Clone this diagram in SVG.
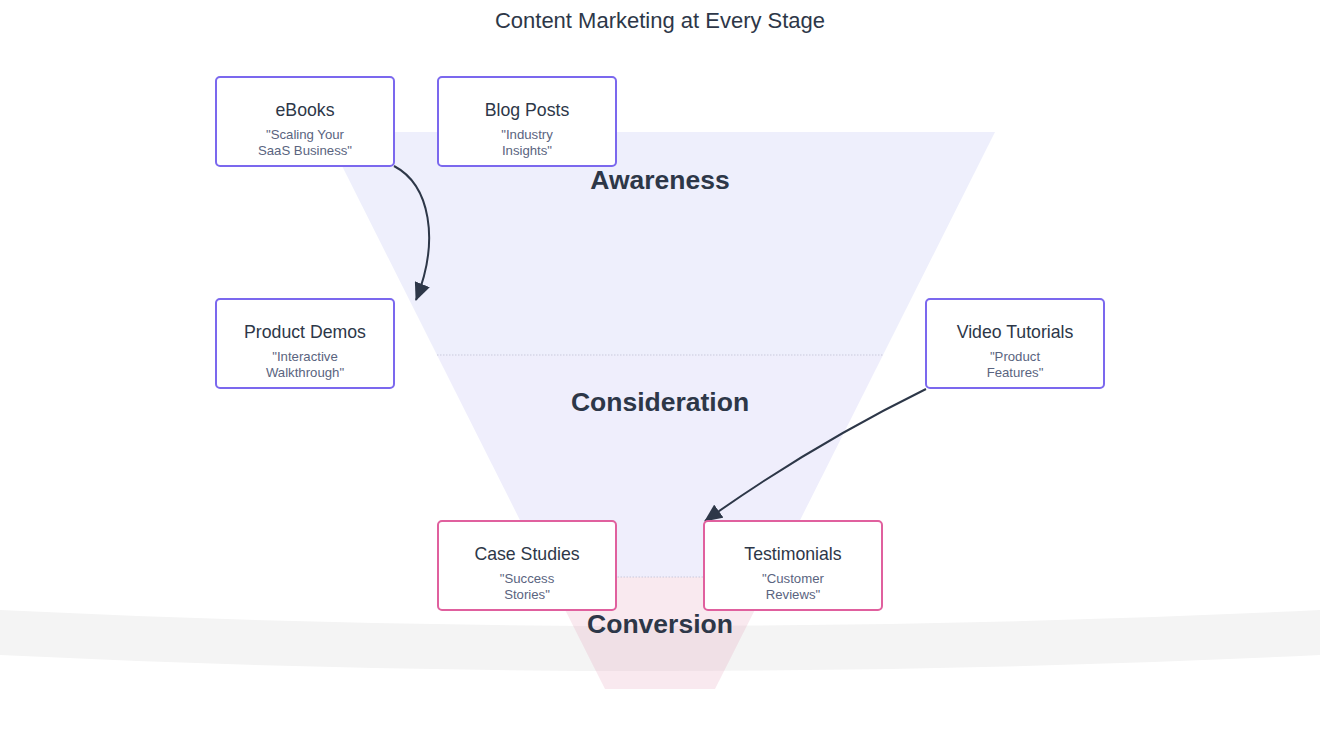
<svg xmlns="http://www.w3.org/2000/svg" width="1320" height="756" viewBox="0 0 1320 756">
<defs>
<style>
.bg{fill:#ffffff}
.band{fill:#f4f4f4}
.div{stroke:#c9c9dc;stroke-width:1;stroke-dasharray:1.5 1.5;fill:none}
.stage{font-family:"Liberation Sans",Arial,sans-serif;font-weight:bold;font-size:26.5px;fill:#2d3748;text-anchor:middle}
.title{font-family:"Liberation Sans",Arial,sans-serif;font-size:22px;fill:#2d3748;text-anchor:middle}
.box{fill:#ffffff;stroke-width:2}
.purple{stroke:#7b68ee}
.pink{stroke:#e0609e}
.nt{font-family:"Liberation Sans",Arial,sans-serif;font-size:17.7px;fill:#2d3748;text-anchor:middle}
.ns{font-family:"Liberation Sans",Arial,sans-serif;font-size:13.2px;fill:#5a6480;text-anchor:middle}
.edge{fill:none;stroke:#2d3748;stroke-width:2}
</style>
<marker id="arrow" markerUnits="userSpaceOnUse" markerWidth="18" markerHeight="16" viewBox="0 0 18 16" refX="17" refY="8" orient="auto">
<path d="M0,0 L18,8 L0,16 Z" fill="#2d3748"/>
</marker>
</defs>
<rect class="bg" x="0" y="0" width="1320" height="756"/>
<text class="title" x="660" y="28">Content Marketing at Every Stage</text>
<path class="band" d="M0,610 Q660,642 1320,610 L1320,655 Q660,687 0,655 Z"/>
<g id="funnel">
<polygon points="325,132 995,132 883,355 437,355" fill="#eeeffc"/>
<polygon points="437,355 883,355 771.5,577 548.5,577" fill="#efeefc"/>
<polygon points="548.5,577 771.5,577 715,689 605,689" fill="rgb(225,145,175)" fill-opacity="0.2"/>
<line class="div" x1="437" y1="355" x2="883" y2="355"/>
<line class="div" x1="548.5" y1="577" x2="771.5" y2="577"/>
</g>
<g id="stage-labels">
<text class="stage" x="660" y="189">Awareness</text>
<text class="stage" x="660" y="411">Consideration</text>
<text class="stage" x="660" y="633">Conversion</text>
</g>
<g id="connectors">
<path class="edge" d="M394,166 C430,185 440,240 416,300" marker-end="url(#arrow)"/>
<path class="edge" d="M926,389 Q810,446 705,521" marker-end="url(#arrow)"/>
</g>
<g id="ebooks">
<rect class="box purple" x="216" y="77" width="178" height="89" rx="4"/>
<text class="nt" x="305" y="116">eBooks</text>
<text class="ns" x="305" y="139">"Scaling Your</text>
<text class="ns" x="305" y="155">SaaS Business"</text>
</g>
<g id="blog-posts">
<rect class="box purple" x="438" y="77" width="178" height="89" rx="4"/>
<text class="nt" x="527" y="116">Blog Posts</text>
<text class="ns" x="527" y="139">"Industry</text>
<text class="ns" x="527" y="155">Insights"</text>
</g>
<g id="product-demos">
<rect class="box purple" x="216" y="299" width="178" height="89" rx="4"/>
<text class="nt" x="305" y="338">Product Demos</text>
<text class="ns" x="305" y="361">"Interactive</text>
<text class="ns" x="305" y="377">Walkthrough"</text>
</g>
<g id="video-tutorials">
<rect class="box purple" x="926" y="299" width="178" height="89" rx="4"/>
<text class="nt" x="1015" y="338">Video Tutorials</text>
<text class="ns" x="1015" y="361">"Product</text>
<text class="ns" x="1015" y="377">Features"</text>
</g>
<g id="case-studies">
<rect class="box pink" x="438" y="521" width="178" height="89" rx="4"/>
<text class="nt" x="527" y="560">Case Studies</text>
<text class="ns" x="527" y="583">"Success</text>
<text class="ns" x="527" y="599">Stories"</text>
</g>
<g id="testimonials">
<rect class="box pink" x="704" y="521" width="178" height="89" rx="4"/>
<text class="nt" x="793" y="560">Testimonials</text>
<text class="ns" x="793" y="583">"Customer</text>
<text class="ns" x="793" y="599">Reviews"</text>
</g>
</svg>
